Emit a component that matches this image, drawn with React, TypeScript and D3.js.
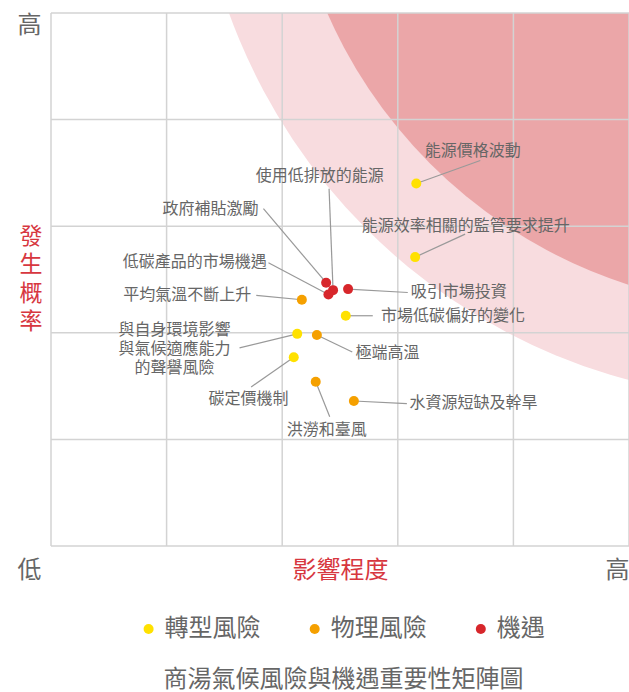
import { useEffect, useRef } from "react";
import * as d3 from "d3";

const W = 629;
const H = 692;
const MARGIN = { top: 13, right: 0, bottom: 146, left: 51 };

// risk items: name, impact (x), likelihood (y), type
const names = [
  "能源價格波動",
  "能源效率相關的監管要求提升",
  "政府補貼激勵",
  "使用低排放的能源",
  "低碳產品的市場機遇",
  "吸引市場投資",
  "平均氣溫不斷上升",
  "市場低碳偏好的變化",
  "與自身環境影響\n與氣候適應能力\n的聲譽風險",
  "極端高溫",
  "碳定價機制",
  "洪澇和臺風",
  "水資源短缺及幹旱",
];
const impact = [3.16, 3.15, 2.38, 2.44, 2.4, 2.57, 2.17, 2.55, 2.13, 2.3, 2.1, 2.29, 2.62];
const likelihood = [3.4, 2.71, 2.47, 2.4, 2.36, 2.41, 2.31, 2.16, 1.99, 1.98, 1.77, 1.54, 1.36];
const types = [0, 0, 2, 2, 2, 2, 1, 0, 0, 1, 0, 1, 1];

const typeNames = ["轉型風險", "物理風險", "機遇"];
const typeColors = ["#ffe100", "#f5a000", "#d7262b"];

// label layout: leader end (ex, ey) and text anchor (tx, ty) relative to the dot, in px
const labelLayout: { ex: number; ey: number; tx: number; ty: number; anchor: string }[] = [
  { ex: 64, ey: -23, tx: 56.5, ty: -32, anchor: "middle" },
  { ex: 50, ey: -23, tx: 50.6, ty: -31.3, anchor: "middle" },
  { ex: -62.7, ey: -74, tx: -67.7, ty: -73.3, anchor: "end" },
  { ex: -4, ey: -101.4, tx: -13.4, ty: -114, anchor: "middle" },
  { ex: -60, ey: -31.6, tx: -61.6, ty: -32, anchor: "end" },
  { ex: 59.7, ey: 3.4, tx: 62.7, ty: 3.4, anchor: "start" },
  { ex: -45.6, ey: -4.3, tx: -50.6, ty: -4.3, anchor: "end" },
  { ex: 27, ey: 0, tx: 35.3, ty: 0, anchor: "start" },
  { ex: -57.7, ey: 14, tx: -122.7, ty: 15, anchor: "middle" },
  { ex: 35.4, ey: 17, tx: 38.7, ty: 18, anchor: "start" },
  { ex: -42.6, ey: 29.6, tx: -45.3, ty: 42.3, anchor: "middle" },
  { ex: 14, ey: 35, tx: 11, ty: 48.3, anchor: "middle" },
  { ex: 53, ey: 2.7, tx: 55.6, ty: 2.7, anchor: "start" },
];

// priority zones (circles in impact units, centred off the top-right)
const zoneCenter = [6.3, 6.86];
const zoneRadii = [5.06, 4.27];
const zoneColors = ["#f8dcdf", "#eba6a8"];

const FONT = "'Noto Sans CJK TC', 'Noto Sans', sans-serif";
const LIFT = "-0.14em"; // glyphs sit a bit low with central baseline

const App = () => {
  const svgRef = useRef<SVGSVGElement | null>(null);

  useEffect(() => {
    const svg = d3.select(svgRef.current);
    svg.selectAll("*").remove();

    const boundsWidth = W - MARGIN.left - MARGIN.right;
    const boundsHeight = H - MARGIN.top - MARGIN.bottom;

    const xScale = d3.scaleLinear().domain([0, 5]).range([MARGIN.left, MARGIN.left + boundsWidth]);
    const yScale = d3.scaleLinear().domain([0, 5]).range([MARGIN.top + boundsHeight, MARGIN.top]);

    svg
      .append("defs")
      .append("clipPath")
      .attr("id", "plotClip")
      .append("rect")
      .attr("x", MARGIN.left)
      .attr("y", MARGIN.top)
      .attr("width", boundsWidth)
      .attr("height", boundsHeight);

    // zones
    svg
      .append("g")
      .attr("clip-path", "url(#plotClip)")
      .selectAll("circle")
      .data(zoneRadii)
      .join("circle")
      .attr("cx", xScale(zoneCenter[0]))
      .attr("cy", yScale(zoneCenter[1]))
      .attr("r", (d) => xScale(d) - xScale(0))
      .attr("fill", (d, i) => zoneColors[i]);

    // grid
    const ticks = d3.range(0, 6);
    const grid = svg.append("g").attr("stroke", "#d3d3d3").attr("stroke-width", 1.5);
    grid
      .selectAll(".v")
      .data(ticks)
      .join("line")
      .attr("x1", (d) => xScale(d))
      .attr("x2", (d) => xScale(d))
      .attr("y1", yScale(0))
      .attr("y2", yScale(5));
    grid
      .selectAll(".h")
      .data(ticks)
      .join("line")
      .attr("x1", xScale(0))
      .attr("x2", xScale(5))
      .attr("y1", (d) => yScale(d))
      .attr("y2", (d) => yScale(d));

    const items = names.map((n, i) => ({
      name: n,
      x: xScale(impact[i]),
      y: yScale(likelihood[i]),
      color: typeColors[types[i]],
      lay: labelLayout[i],
    }));

    // leader lines
    svg
      .append("g")
      .selectAll("line")
      .data(items)
      .join("line")
      .attr("x1", (d) => d.x)
      .attr("y1", (d) => d.y)
      .attr("x2", (d) => d.x + d.lay.ex)
      .attr("y2", (d) => d.y + d.lay.ey)
      .attr("stroke", "#999")
      .attr("stroke-width", 1.2);

    // dots
    svg
      .append("g")
      .selectAll("circle")
      .data(items)
      .join("circle")
      .attr("cx", (d) => d.x)
      .attr("cy", (d) => d.y)
      .attr("r", 5)
      .attr("fill", (d) => d.color);

    // labels
    const labels = svg
      .append("g")
      .attr("font-family", FONT)
      .attr("font-size", 16)
      .attr("fill", "#666")
      .selectAll("text")
      .data(items)
      .join("text")
      .attr("text-anchor", (d) => d.lay.anchor)
      .attr("dominant-baseline", "central");
    labels.each(function (d) {
      const lines = d.name.split("\n");
      const t = d3.select(this);
      lines.forEach((ln, k) => {
        t.append("tspan")
          .attr("x", d.x + d.lay.tx)
          .attr("y", d.y + d.lay.ty + (k - (lines.length - 1) / 2) * 19)
          .attr("dy", LIFT)
          .text(ln);
      });
    });

    // axis texts
    const axisText = svg
      .append("g")
      .attr("font-family", FONT)
      .attr("font-size", 24)
      .attr("dominant-baseline", "central")
      .attr("text-anchor", "middle");
    axisText.append("text").attr("x", 29.5).attr("y", 25.5).attr("dy", LIFT).attr("fill", "#666").text("高");
    axisText.append("text").attr("x", 29.5).attr("y", 570.5).attr("dy", LIFT).attr("fill", "#666").text("低");
    axisText.append("text").attr("x", 617.5).attr("y", 570.5).attr("dy", LIFT).attr("fill", "#666").text("高");
    axisText.append("text").attr("x", 340.5).attr("y", 570.5).attr("dy", LIFT).attr("fill", "#d7373f").text("影響程度");
    "發生概率".split("").forEach((ch, i) => {
      axisText
        .append("text")
        .attr("x", 31)
        .attr("y", 237 + i * 28.5)
        .attr("dy", LIFT)
        .attr("font-size", 23)
        .attr("fill", "#d7373f")
        .text(ch);
    });

    // legend
    const legendX = [148.6, 314.7, 480.8];
    const legend = svg.append("g").attr("font-family", FONT).attr("font-size", 24);
    typeNames.forEach((n, i) => {
      legend.append("circle").attr("cx", legendX[i]).attr("cy", 629).attr("r", 5).attr("fill", typeColors[i]);
      legend
        .append("text")
        .attr("x", legendX[i] + 16)
        .attr("y", 629)
        .attr("dy", LIFT)
        .attr("dominant-baseline", "central")
        .attr("fill", "#666")
        .text(n);
    });

    // title
    svg
      .append("text")
      .attr("x", 343.5)
      .attr("y", 679.5)
      .attr("dy", LIFT)
      .attr("text-anchor", "middle")
      .attr("dominant-baseline", "central")
      .attr("font-family", FONT)
      .attr("font-size", 24)
      .attr("fill", "#666")
      .text("商湯氣候風險與機遇重要性矩陣圖");
  }, []);

  return (
    <svg
      ref={svgRef}
      width={W}
      height={H}
      style={{ position: "absolute", left: 0, top: 0, background: "#fff" }}
    ></svg>
  );
};

export default App;
